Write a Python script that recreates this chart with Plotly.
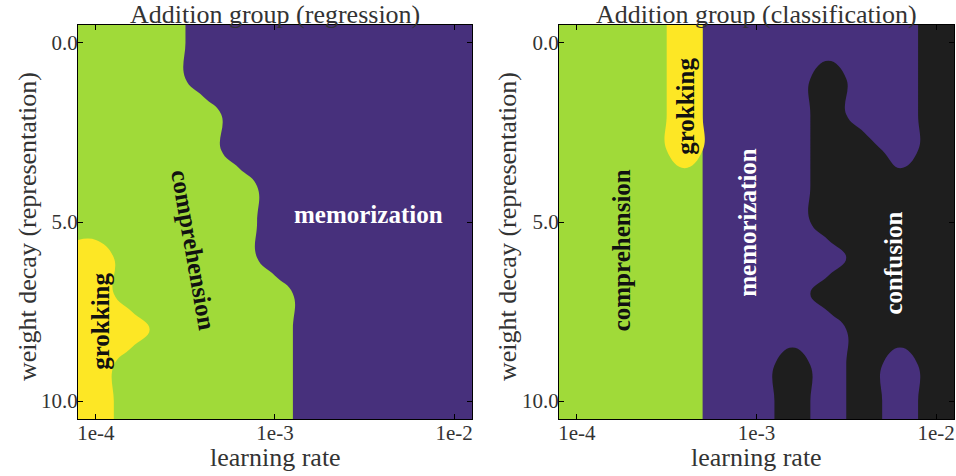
import numpy as np
import plotly.graph_objects as go
from plotly.subplots import make_subplots

# learning rate grid (log10) and weight decay grid
lr_exp = [-4.0, -3.8, -3.6, -3.4, -3.2, -3.0, -2.8, -2.6, -2.4, -2.2, -2.0]
wd = [0, 1, 2, 3, 4, 5, 6, 7, 8, 9, 10]

# phase per (weight decay row, learning rate column)
# C = comprehension, G = grokking, M = memorization, X = confusion
reg_phase = [
    "CCCMMMMMMMM",
    "CCCMMMMMMMM",
    "CCCCMMMMMMM",
    "CCCCMMMMMMM",
    "CCCCCMMMMMM",
    "CCCCCMMMMMM",
    "GCCCCMMMMMM",
    "GCCCCCMMMMM",
    "GGCCCCMMMMM",
    "GCCCCCMMMMM",
    "GCCCCCMMMMM",
]
cls_phase = [
    "CCCGMMMMMMX",
    "CCCGMMMXMMX",
    "CCCGMMMXMMX",
    "CCCGMMMXXMX",
    "CCCCMMMXXXX",
    "CCCCMMMXXXX",
    "CCCCMMMMXXX",
    "CCCCMMMXXXX",
    "CCCCMMMMXXX",
    "CCCCMMXMXMX",
    "CCCCMMXMXMX",
]

colors = {"C": "#a0da39", "G": "#fde725", "M": "#47307c", "X": "#1e1e1e"}
serif = "Liberation Serif"
txt = "#333333"

# cell edges like imshow extent
xp = [lr_exp[0] - 0.1] + lr_exp + [lr_exp[-1] + 0.1]
yp = [wd[0] - 0.5] + wd + [wd[-1] + 0.5]

fig = make_subplots(rows=1, cols=2)


def add_layer(grid, keys, color, col):
    ind = np.array([[1.0 if ch in keys else 0.0 for ch in row] for row in grid])
    ind = np.pad(ind, 1, mode="edge")
    fig.add_trace(go.Contour(
        x=xp, y=yp, z=ind, zmin=0, zmax=1,
        contours=dict(start=0.5, end=0.5, size=1, coloring="fill", showlines=False),
        colorscale=[[0, "rgba(0,0,0,0)"], [1, color]],
        line=dict(width=0, smoothing=1.3),
        showscale=False, hoverinfo="skip",
    ), row=1, col=col)


# regression panel: purple base, then comprehension(+grokking), then grokking
add_layer(reg_phase, "CG", colors["C"], 1)
add_layer(reg_phase, "G", colors["G"], 1)
# classification panel: black base, then non-confusion, comprehension(+grokking), grokking
add_layer(cls_phase, "CGM", colors["M"], 2)
add_layer(cls_phase, "CG", colors["C"], 2)
add_layer(cls_phase, "G", colors["G"], 2)

# panel backgrounds (base phase)
for ax, base in (("x", colors["M"]), ("x2", colors["X"])):
    fig.add_shape(type="rect", xref=ax + " domain", yref=ax.replace("x", "y") + " domain",
                  x0=0, x1=1, y0=0, y1=1, fillcolor=base, line_width=0, layer="below")

axis_common = dict(showline=True, linecolor="black", linewidth=1.2, mirror="ticks",
                   ticks="inside", ticklen=5, tickcolor="black", showgrid=False, zeroline=False,
                   automargin=False, ticklabelstandoff=-5,
                   tickfont=dict(family=serif, size=21, color=txt))
for i, dom in ((1, [0.0816, 0.4937]), (2, [0.5847, 0.9979])):
    fig.update_xaxes(axis_common, row=1, col=i, domain=dom, range=[xp[0], xp[-1]],
                     tickvals=[-4, -3, -2], ticktext=["1e-4", "1e-3", "1e-2"])
    fig.update_yaxes(axis_common, row=1, col=i, domain=[0.1197, 0.9475],
                     range=[yp[-1], yp[0]], tickvals=[0, 5, 10], ticktext=["0.0", "5.0", "10.0"])

# titles and axis labels
for cx, ycx, title in ((0.2877, 27, "Addition group (regression)"),
                       (0.7918, 507, "Addition group (classification)")):
    fig.add_annotation(text=title, xref="paper", yref="paper", x=cx, y=1 - 14 / 476,
                       xanchor="center", yanchor="middle", showarrow=False,
                       font=dict(family=serif, size=26, color=txt))
    fig.add_annotation(text="learning rate", xref="paper", yref="paper", x=cx, y=1 - 457 / 476,
                       xanchor="center", yanchor="middle", showarrow=False,
                       font=dict(family=serif, size=26, color=txt))
    fig.add_annotation(text="weight decay (representation)", xref="paper", yref="paper",
                       x=ycx / 956, y=1 - 227 / 476, textangle=-90,
                       xanchor="center", yanchor="middle", showarrow=False,
                       font=dict(family=serif, size=26, color=txt))

# phase labels (data coordinates)
labels = [
    ("x", "y", -3.458, 5.78, "comprehension", 80, "#111111"),
    ("x", "y", -3.972, 7.76, "grokking", -90, "#111111"),
    ("x", "y", -2.48, 4.78, "memorization", 0, "white"),
    ("x2", "y2", -3.747, 5.78, "comprehension", -90, "#111111"),
    ("x2", "y2", -3.395, 1.77, "grokking", -90, "#111111"),
    ("x2", "y2", -3.054, 5.0, "memorization", -90, "white"),
    ("x2", "y2", -2.238, 6.15, "confusion", -90, "white"),
]
for xr, yr, lx, ly, name, ang, c in labels:
    fig.add_annotation(text="<b>" + name + "</b>", xref=xr, yref=yr, x=lx, y=ly,
                       textangle=ang, showarrow=False,
                       font=dict(family=serif, size=25, color=c))

fig.update_layout(width=956, height=476, margin=dict(l=0, r=0, t=0, b=0),
                  paper_bgcolor="white", plot_bgcolor="white", showlegend=False)

# drop the default page margin so the figure sits at the window's corner
fig.write_html("out.html", config={"displayModeBar": False},
               post_script="document.body.style.margin='0';")
